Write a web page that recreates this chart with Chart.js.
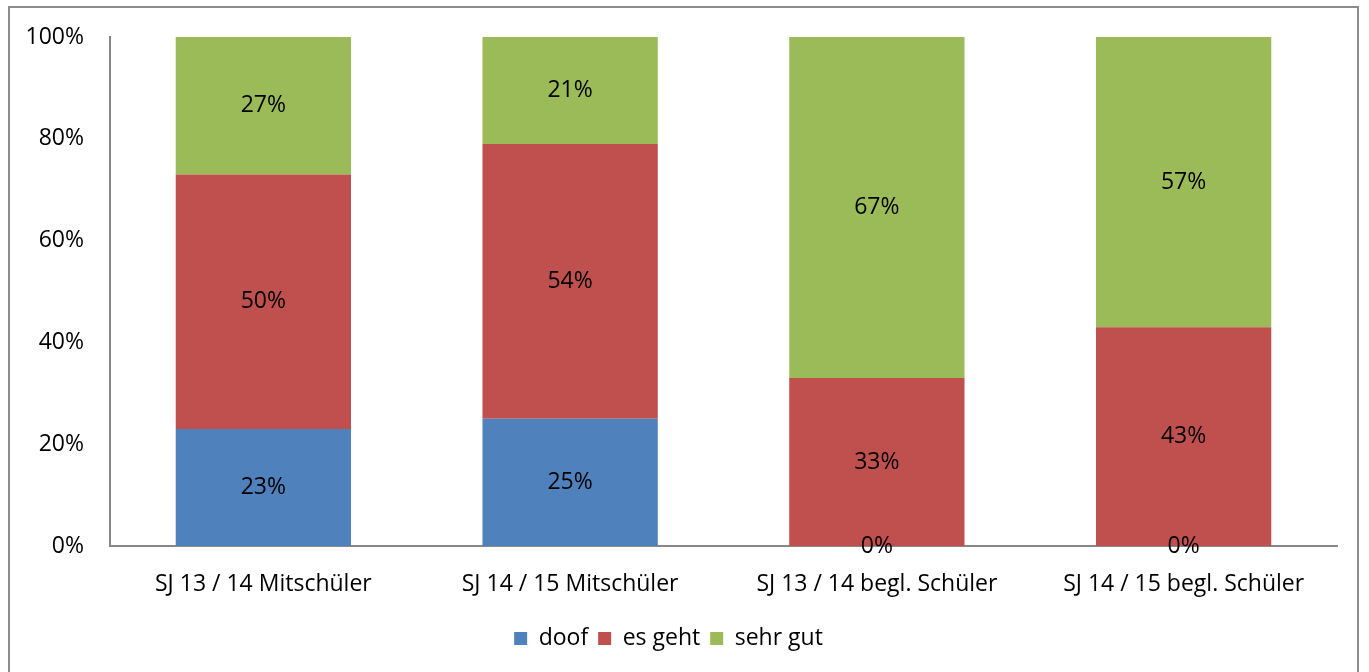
<!doctype html>
<html>
<head>
	<meta charset="UTF-8">
	<title>Bewertung</title>
	<script src="https://cdn.jsdelivr.net/npm/chart.js@4.4.1/dist/chart.umd.min.js"></script>
	<style>
		body { margin: 0; background: #fff; }
		canvas { display: block; }
	</style>
</head>
<body>
<canvas id="chart" width="1369" height="672"></canvas>
<script>
	var categories = ['SJ 13 / 14 Mitschüler', 'SJ 14 / 15 Mitschüler', 'SJ 13 / 14 begl. Schüler', 'SJ 14 / 15 begl. Schüler'];
	var seriesNames = ['doof', 'es geht', 'sehr gut'];
	var doof = [23, 25, 0, 0];
	var esGeht = [50, 54, 33, 43];
	var sehrGut = [27, 21, 67, 57];
	var yTicks = [0, 20, 40, 60, 80, 100];

	var colors = ['#4F81BD', '#C0504D', '#9BBB59'];
	var fontName = '"Open Sans", "Noto Sans", sans-serif';
	var fontSize = 23;

	// outer frame round the whole chart
	var framePlugin = {
		id: 'frame',
		afterDraw: function (chart) {
			var ctx = chart.ctx;
			ctx.save();
			ctx.strokeStyle = '#8c8c8c';
			ctx.lineWidth = 2;
			ctx.strokeRect(9, 7, 1349, 666);
			ctx.restore();
		}
	};

	// percentage labels in the middle of each segment
	var labelPlugin = {
		id: 'segLabels',
		afterDatasetsDraw: function (chart) {
			var ctx = chart.ctx;
			ctx.save();
			ctx.font = fontSize + 'px ' + fontName;
			ctx.fillStyle = '#000';
			ctx.textAlign = 'center';
			ctx.textBaseline = 'middle';
			chart.data.datasets.forEach(function (ds, i) {
				var meta = chart.getDatasetMeta(i);
				meta.data.forEach(function (bar, j) {
					var y = (bar.y + bar.base) / 2;
					ctx.fillText(ds.data[j] + '%', bar.x, y);
				});
			});
			ctx.restore();
		}
	};

	var config = {
		type: 'bar',
		data: {
			labels: categories,
			datasets: [
				{ label: seriesNames[0], data: doof, backgroundColor: colors[0] },
				{ label: seriesNames[1], data: esGeht, backgroundColor: colors[1] },
				{ label: seriesNames[2], data: sehrGut, backgroundColor: colors[2] }
			]
		},
		options: {
			responsive: false,
			animation: false,
			layout: {
				padding: { top: 37, right: 32, bottom: 12, left: 0 }
			},
			datasets: {
				bar: { categoryPercentage: 1, barPercentage: 1 / 1.75 }
			},
			plugins: {
				tooltip: { enabled: false },
				legend: {
					position: 'bottom',
					labels: {
						boxWidth: 13,
						boxHeight: 13,
						padding: 10,
						color: '#000',
						font: { family: fontName, size: fontSize }
					}
				}
			},
			scales: {
				x: {
					stacked: true,
					grid: { display: false, drawTicks: false },
					border: { color: '#888', width: 2 },
					ticks: {
						color: '#000',
						padding: 25,
						maxRotation: 0,
						font: { family: fontName, size: fontSize }
					},
					afterFit: function (scale) {
						scale.height = 71;
						scale.paddingLeft = 0;
						scale.paddingRight = 0;
					}
				},
				y: {
					stacked: true,
					min: 0,
					max: 100,
					afterBuildTicks: function (scale) {
						scale.ticks = yTicks.map(function (v) { return { value: v }; });
					},
					grid: { display: false, drawTicks: false },
					border: { color: '#888', width: 2 },
					ticks: {
						color: '#000',
						padding: 26,
						font: { family: fontName, size: fontSize },
						callback: function (v) { return v + '%'; }
					},
					afterFit: function (scale) {
						scale.width = 110;
						scale.paddingTop = 0;
						scale.paddingBottom = 0;
					}
				}
			}
		},
		plugins: [framePlugin, labelPlugin]
	};

	new Chart(document.getElementById('chart').getContext('2d'), config);
</script>
</body>
</html>
